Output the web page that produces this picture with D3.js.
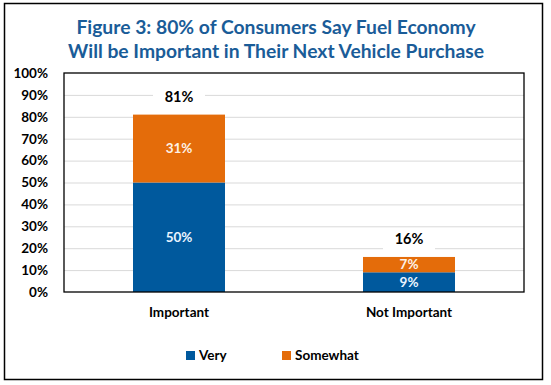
<!DOCTYPE html>
<html lang="en">
<head>
  <meta charset="UTF-8">
  <title>Figure 3</title>
  <script src="https://d3js.org/d3.v7.min.js"></script>
  <style>
    body { margin: 0; background: #fff; }
    svg { display: block; font-family: Lato, "Open Sans", sans-serif; }
  </style>
</head>
<body>
  <svg id="chart"></svg>
  <script>
    const categories = ["Important", "Not Important"];
    const very = [50, 9];
    const somewhat = [31, 7];
    const totals = [81, 16];
    const seriesNames = ["Very", "Somewhat"];
    const yTicks = [0, 10, 20, 30, 40, 50, 60, 70, 80, 90, 100];
    const titleLines = [
      "Figure 3: 80% of Consumers Say Fuel Economy",
      "Will be Important in Their Next Vehicle Purchase"
    ];

    const width = 551, height = 385;
    const colors = { Very: "#00599d", Somewhat: "#e46c0a" };
    const plot = { left: 64, right: 524, top: 73, bottom: 292 };

    const svg = d3.select("#chart").attr("width", width).attr("height", height);

    // outer frame
    svg.append("rect")
      .attr("x", 4.5).attr("y", 3.5)
      .attr("width", 538).attr("height", 376)
      .attr("fill", "#fff").attr("stroke", "#000").attr("stroke-width", 1.5);

    // title
    svg.append("g").selectAll("text")
      .data(titleLines)
      .join("text")
      .attr("x", 276)
      .attr("y", (d, i) => 34 + i * 24)
      .attr("text-anchor", "middle")
      .attr("font-size", 19.3)
      .attr("font-weight", "bold")
      .attr("fill", "#1a5c98")
      .text(d => d);

    const x = d3.scaleBand()
      .domain(categories)
      .range([plot.left, plot.right])
      .paddingInner(0)
      .paddingOuter(0);

    const y = d3.scaleLinear().domain([0, 100]).range([plot.bottom, plot.top]);

    // gridlines
    svg.append("g")
      .selectAll("line")
      .data(yTicks.filter(d => d > 0 && d < 100))
      .join("line")
      .attr("x1", plot.left).attr("x2", plot.right)
      .attr("y1", d => y(d) + 0.5).attr("y2", d => y(d) + 0.5)
      .attr("stroke", "#d9d9d9").attr("stroke-width", 1);

    // y axis labels
    const yAxis = d3.axisLeft(y)
      .tickValues(yTicks)
      .tickSize(0)
      .tickPadding(16)
      .tickFormat(d => d + "%");
    const yg = svg.append("g")
      .attr("transform", `translate(${plot.left},0)`)
      .call(yAxis);
    yg.select(".domain").remove();
    yg.selectAll("text")
      .attr("font-family", "Lato, sans-serif")
      .attr("font-size", 13.5)
      .attr("font-weight", "bold")
      .attr("fill", "#000");

    // bars
    const barW = x.bandwidth() * 0.4;
    const rows = categories.map((c, i) => ({ c, i }));

    const stacks = [
      { name: "Very", vals: very, base: () => 0 },
      { name: "Somewhat", vals: somewhat, base: i => very[i] }
    ];

    stacks.forEach(s => {
      svg.append("g").selectAll("rect")
        .data(rows)
        .join("rect")
        .attr("x", d => x(d.c) + (x.bandwidth() - barW) / 2)
        .attr("y", d => y(s.base(d.i) + s.vals[d.i]))
        .attr("width", barW)
        .attr("height", d => y(s.base(d.i)) - y(s.base(d.i) + s.vals[d.i]))
        .attr("fill", colors[s.name]);

      svg.append("g").selectAll("text")
        .data(rows)
        .join("text")
        .attr("x", d => x(d.c) + x.bandwidth() / 2)
        .attr("y", d => y(s.base(d.i) + s.vals[d.i] / 2))
        .attr("dy", "0.36em")
        .attr("text-anchor", "middle")
        .attr("font-size", 13.5)
        .attr("font-weight", "bold")
        .attr("fill", s.name === "Very" ? "#eaf4ff" : "#fdf1e6")
        .text(d => s.vals[d.i] + "%");
    });

    // totals with white box
    const tg = svg.append("g").selectAll("g")
      .data(rows)
      .join("g")
      .attr("transform", d => `translate(${x(d.c) + x.bandwidth() / 2},${y(totals[d.i]) - 18})`);
    tg.append("rect")
      .attr("x", -26).attr("y", -11).attr("width", 52).attr("height", 22)
      .attr("fill", "#fff");
    tg.append("text")
      .attr("text-anchor", "middle")
      .attr("dy", "0.36em")
      .attr("font-size", 14.5)
      .attr("font-weight", "bold")
      .attr("fill", "#000")
      .text(d => totals[d.i] + "%");

    // plot border
    svg.append("rect")
      .attr("x", plot.left).attr("y", plot.top)
      .attr("width", plot.right - plot.left).attr("height", plot.bottom - plot.top)
      .attr("fill", "none").attr("stroke", "#000").attr("stroke-width", 1.3);

    // x axis labels
    const xAxis = d3.axisBottom(x).tickSize(0).tickPadding(15);
    const xg = svg.append("g")
      .attr("transform", `translate(0,${plot.bottom})`)
      .call(xAxis);
    xg.select(".domain").remove();
    xg.selectAll("text")
      .attr("font-family", "Lato, sans-serif")
      .attr("font-size", 13.5)
      .attr("font-weight", "bold")
      .attr("fill", "#000");

    // legend
    const legendX = [186, 282];
    const lg = svg.append("g").selectAll("g")
      .data(seriesNames)
      .join("g")
      .attr("transform", (d, i) => `translate(${legendX[i]},355)`);
    lg.append("rect")
      .attr("x", 0).attr("y", -4).attr("width", 9).attr("height", 9)
      .attr("fill", d => colors[d]);
    lg.append("text")
      .attr("x", 13)
      .attr("dy", "0.36em")
      .attr("y", 0)
      .attr("font-size", 13.5)
      .attr("font-weight", "bold")
      .attr("fill", "#000")
      .text(d => d);
  </script>
</body>
</html>
